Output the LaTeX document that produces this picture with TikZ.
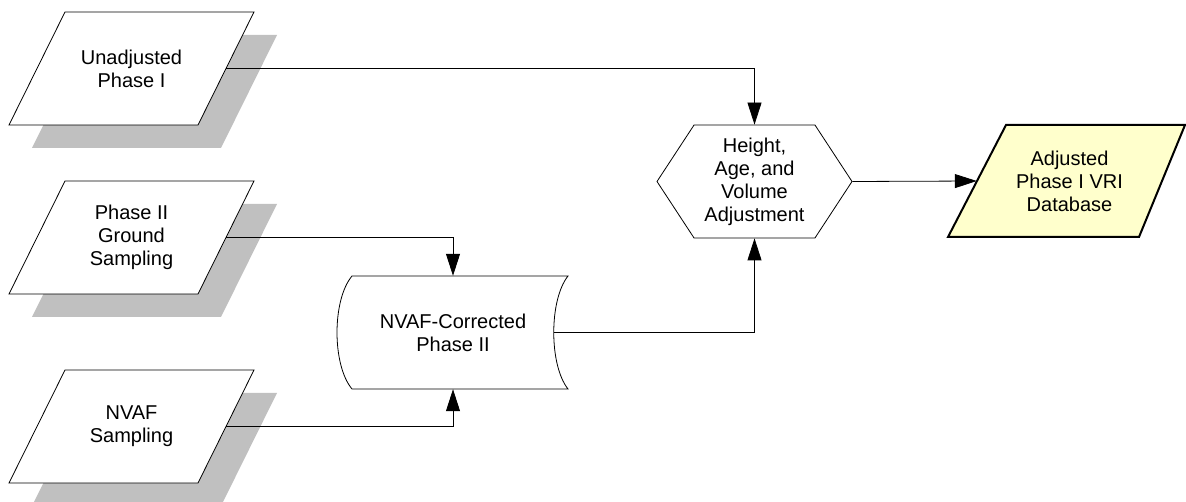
\documentclass[tikz,border=0pt]{standalone}
\usepackage{fontspec}
\setmainfont{Liberation Sans}
\usetikzlibrary{shapes.symbols,arrows.meta}

\definecolor{shadowgray}{RGB}{192,192,192}
\definecolor{dbyellow}{RGB}{255,255,204}

\tikzset{
  inbox/.style={minimum width=189pt, minimum height=113pt, align=center, inner sep=0pt},
  flow/.style={draw, line width=0.8pt, -{Triangle[length=22pt,width=14pt]}},
}

\begin{document}
\begin{tikzpicture}[x=1pt, y=-1pt, font=\fontsize{20}{23}\selectfont]
  % Drawing parameters
  \pgfmathsetmacro{\inx}{131.5}
  \pgfmathsetmacro{\halfw}{94.5}
  \pgfmathsetmacro{\halfh}{56.5}
  \pgfmathsetmacro{\slant}{28}
  \pgfmathsetmacro{\shift}{23}
  \pgfmathsetmacro{\corrl}{352}
  \pgfmathsetmacro{\corrr}{568}
  \pgfmathsetmacro{\corrt}{276}
  \pgfmathsetmacro{\corrb}{389}

  \useasboundingbox (0,0) rectangle (1186,502);

  % inputs with shadows
  \foreach \nm/\cy/\txt in {unadj/68.5/{Unadjusted\\Phase I},
                            ground/237.5/{Phase II\\Ground\\Sampling},
                            nvaf/426.5/{NVAF\\Sampling}} {
    \fill[shadowgray] (\inx-\halfw-\slant+\shift,\cy+\halfh+\shift) -- (\inx-\halfw+\slant+\shift,\cy-\halfh+\shift)
      -- (\inx+\halfw+\slant+\shift,\cy-\halfh+\shift) -- (\inx+\halfw-\slant+\shift,\cy+\halfh+\shift) -- cycle;
    \draw[fill=white, line width=0.8pt] (\inx-\halfw-\slant,\cy+\halfh) -- (\inx-\halfw+\slant,\cy-\halfh)
      -- (\inx+\halfw+\slant,\cy-\halfh) -- (\inx+\halfw-\slant,\cy+\halfh) -- cycle;
    \node[inbox] (\nm) at (\inx,\cy) {\txt};
  }

  % stored data
  \node[align=center, minimum height=113pt, inner sep=0pt] (corr) at (453,332.5) {NVAF-Corrected\\Phase II};
  \draw[line width=0.8pt] (\corrl,\corrt) -- (\corrr,\corrt)
    .. controls (549,300) and (549,365) .. (\corrr,\corrb) -- (\corrl,\corrb)
    .. controls (332,365) and (332,300) .. cycle;
  \coordinate (corrout) at (554,332.5);

  % adjustment
  \node[signal, signal to=west and east, signal pointer angle=113.5, draw, line width=0.8pt,
    minimum width=195pt, minimum height=113pt, align=center, inner sep=0pt] (adjust) at (754.5,181.5)
    {Height,\\Age, and\\Volume\\Adjustment};

  % output
  \draw[fill=dbyellow, line width=2pt, line join=miter] (948,237) -- (1006,125) -- (1185,125) -- (1139,237) -- cycle;
  \node[inbox, minimum width=185pt, minimum height=112pt] (vri) at (1069.5,181) {Adjusted\\Phase I VRI\\Database};

  \draw[flow] (unadj.east) -| (adjust.north);
  \draw[flow] (ground.east) -| (corr.north);
  \draw[flow] (nvaf.east) -| (corr.south);
  \draw[flow] (corrout) -| (adjust.south);
  \draw[flow] (adjust.east) -- (vri.west);
\end{tikzpicture}
\end{document}
